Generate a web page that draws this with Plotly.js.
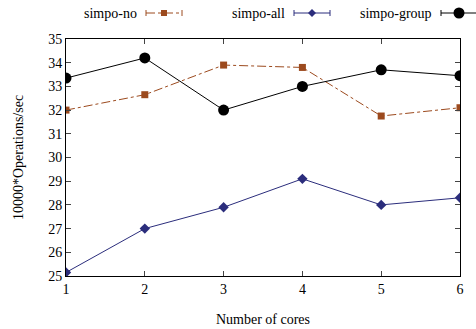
<!DOCTYPE html>
<html>
<head>
<meta charset="utf-8">
<script src="https://cdn.plot.ly/plotly-3.0.1.min.js"></script>
<style>html,body{margin:0;padding:0;background:#fff;}#chart{width:476px;height:329px;}</style>
</head>
<body>
<div id="chart"></div>
<script>
const cores = [1, 2, 3, 4, 5, 6];
const simpoNo = [32.0, 32.65, 33.9, 33.8, 31.75, 32.1];
const simpoAll = [25.15, 27.0, 27.9, 29.1, 28.0, 28.3];
const simpoGroup = [33.35, 34.2, 32.0, 33.0, 33.7, 33.45];
const yTicks = [25, 26, 27, 28, 29, 30, 31, 32, 33, 34, 35];
const seriesNames = ['simpo-no', 'simpo-all', 'simpo-group'];

const font = {family: 'Liberation Serif', size: 14, color: '#000'};
const W = 476, H = 329;
const M = {l: 66, r: 16, t: 39, b: 53};
const PW = W - M.l - M.r, PH = H - M.t - M.b;
const px = p => (p - M.l) / PW;      // pixel x -> paper x
const py = p => (H - M.b - p) / PH;  // pixel y -> paper y

const styles = [
  {color: '#9C4A1E', dash: 'dashdot', symbol: 'square', size: 7},
  {color: '#2B2D7C', dash: 'solid', symbol: 'diamond', size: 8},
  {color: '#000000', dash: 'solid', symbol: 'circle', size: 11}
];
const seriesData = [simpoNo, simpoAll, simpoGroup];

const traces = seriesData.map((ys, i) => ({
  x: cores, y: ys, name: seriesNames[i], mode: 'lines+markers', showlegend: false,
  line: {color: styles[i].color, width: 1, dash: styles[i].dash},
  marker: {symbol: styles[i].symbol, size: styles[i].size, color: styles[i].color}
}));

// gnuplot-style key: text, then sample line with end caps and marker
const keyTextRight = [139, 287, 434];
const keySampleStart = [146, 294, 441];
const keyLen = 36, keyY = 13, capH = 3;
const annotations = [];
const shapes = [];
seriesNames.forEach((name, i) => {
  const s = styles[i];
  annotations.push({xref: 'paper', yref: 'paper', x: px(keyTextRight[i]), y: py(keyY),
    xanchor: 'right', yanchor: 'middle', text: name, showarrow: false, font: font});
  const x0 = keySampleStart[i], x1 = x0 + keyLen, xm = x0 + keyLen / 2;
  const ln = {color: s.color, width: 1};
  shapes.push({type: 'line', xref: 'paper', yref: 'paper', x0: px(x0), x1: px(x1), y0: py(keyY), y1: py(keyY),
    line: {color: s.color, width: 1, dash: s.dash}});
  shapes.push({type: 'line', xref: 'paper', yref: 'paper', x0: px(x0), x1: px(x0), y0: py(keyY - capH), y1: py(keyY + capH), line: ln});
  shapes.push({type: 'line', xref: 'paper', yref: 'paper', x0: px(x1), x1: px(x1), y0: py(keyY - capH), y1: py(keyY + capH), line: ln});
  const r = s.size / 2;
  if (s.symbol === 'square') {
    shapes.push({type: 'rect', xref: 'paper', yref: 'paper', x0: px(xm - r + 0.5), x1: px(xm + r - 0.5),
      y0: py(keyY - r + 0.5), y1: py(keyY + r - 0.5), fillcolor: s.color, line: {width: 0}});
  } else if (s.symbol === 'circle') {
    shapes.push({type: 'circle', xref: 'paper', yref: 'paper', x0: px(xm - r), x1: px(xm + r),
      y0: py(keyY - r), y1: py(keyY + r), fillcolor: s.color, line: {width: 0}});
  } else {
    shapes.push({type: 'path', xref: 'paper', yref: 'paper',
      path: `M ${px(xm - r)} ${py(keyY)} L ${px(xm)} ${py(keyY - r)} L ${px(xm + r)} ${py(keyY)} L ${px(xm)} ${py(keyY + r)} Z`,
      fillcolor: s.color, line: {width: 0}});
  }
});

const layout = {
  width: W, height: H,
  margin: {l: M.l, r: M.r, t: M.t, b: M.b, autoexpand: false},
  paper_bgcolor: '#fff', plot_bgcolor: '#fff',
  font: font,
  showlegend: false,
  annotations: annotations,
  shapes: shapes,
  xaxis: {range: [1, 6], tickvals: cores, ticks: 'inside', ticklen: 5, showgrid: false,
          zeroline: false, showline: true, linecolor: '#000', linewidth: 1, mirror: 'allticks',
          tickfont: font, title: {text: 'Number of cores', font: font, standoff: 18}},
  yaxis: {range: [25, 35], tickvals: yTicks, ticks: 'inside', ticklen: 5, showgrid: false,
          zeroline: false, showline: true, linecolor: '#000', linewidth: 1, mirror: 'allticks',
          tickfont: font, title: {text: '10000*Operations/sec', font: font, standoff: 21}}
};

Plotly.newPlot('chart', traces, layout, {displayModeBar: false, staticPlot: true});
</script>
</body>
</html>
